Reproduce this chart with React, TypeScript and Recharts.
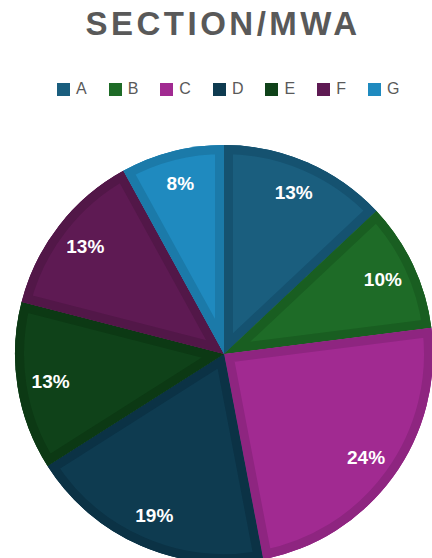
import { PieChart, Pie, Cell, Legend, Sector } from "recharts";

const sections = ["A", "B", "C", "D", "E", "F", "G"];
const shares = [13, 10, 24, 19, 13, 13, 8];
const fills = ["#1A5E7E", "#1E6B27", "#A12A91", "#0E3B50", "#0F4219", "#5E1A53", "#1F8ABF"];
const edges = ["#155270", "#195E21", "#8E2580", "#0B3245", "#0C3914", "#521748", "#1B7AA9"];

const data = sections.map((name, i) => ({ name, value: shares[i] }));

const RAD = Math.PI / 180;

// label layer also repaints each slice with its darker inner rim
const renderLabel = (props: any) => {
  const { cx, cy, midAngle, innerRadius, outerRadius, startAngle, endAngle, index, percent } = props;
  const r = outerRadius * 0.84;
  const x = cx + r * Math.cos(-midAngle * RAD);
  const y = cy + r * Math.sin(-midAngle * RAD);
  const id = `slice-clip-${index}`;
  return (
    <g>
      <defs>
        <clipPath id={id}>
          <Sector cx={cx} cy={cy} innerRadius={innerRadius} outerRadius={outerRadius} startAngle={startAngle} endAngle={endAngle} />
        </clipPath>
      </defs>
      <Sector
        cx={cx}
        cy={cy}
        innerRadius={innerRadius}
        outerRadius={outerRadius}
        startAngle={startAngle}
        endAngle={endAngle}
        fill={fills[index]}
        stroke={edges[index]}
        strokeWidth={18}
        clipPath={`url(#${id})`}
      />
      <text
        x={x}
        y={y}
        fill="#ffffff"
        textAnchor="middle"
        dominantBaseline="central"
        fontFamily="Liberation Sans, Arial, sans-serif"
        fontWeight={700}
        fontSize={19}
      >
        {`${Math.round(percent * 100)}%`}
      </text>
    </g>
  );
};

const renderLegend = (props: any) => {
  const { payload } = props;
  return (
    <div style={{ display: "flex", alignItems: "center", paddingLeft: 57 }}>
      {payload.map((entry: any, i: number) => (
        <div key={i} style={{ display: "flex", alignItems: "center", marginRight: 22 }}>
          <span style={{ width: 13, height: 13, background: entry.color, display: "inline-block", marginRight: 6 }} />
          <span style={{ fontSize: 16, color: "#595959", fontFamily: "Liberation Sans, Arial, sans-serif" }}>{entry.value}</span>
        </div>
      ))}
    </div>
  );
};

export default function App() {
  return (
    <div style={{ position: "absolute", left: 0, top: 0, width: 432, height: 558, background: "#fff", overflow: "hidden" }}>
      <div
        style={{
          position: "absolute",
          top: 8,
          left: 0,
          width: 446,
          textAlign: "center",
          fontFamily: "Liberation Sans, Arial, sans-serif",
          fontWeight: 700,
          fontSize: 33,
          lineHeight: "32px",
          letterSpacing: 3.5,
          color: "#595959",
        }}
      >
        SECTION/MWA
      </div>
      <PieChart width={432} height={558} margin={{ top: 0, right: 0, bottom: 0, left: 0 }}>
        <Legend
          verticalAlign="top"
          align="left"
          content={renderLegend}
          wrapperStyle={{ top: 80, left: 0, width: 432 }}
        />
        <Pie
          data={data}
          dataKey="value"
          nameKey="name"
          cx={224}
          cy={336}
          outerRadius={209}
          startAngle={90}
          endAngle={-270}
          stroke="none"
          labelLine={false}
          label={renderLabel}
          isAnimationActive={false}
        >
          {data.map((entry, i) => (
            <Cell key={entry.name} fill={fills[i]} />
          ))}
        </Pie>
      </PieChart>
    </div>
  );
}
